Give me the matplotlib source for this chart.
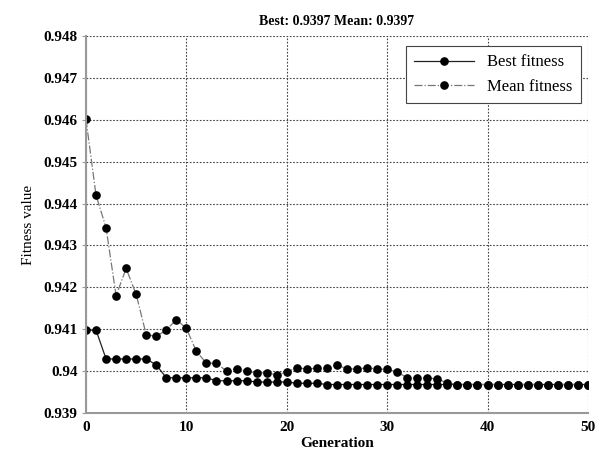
import matplotlib.pyplot as plt

generations = list(range(51))
best_fitness = [0.94098, 0.94098, 0.94029, 0.94029, 0.94029, 0.94029, 0.94029, 0.94015,
                0.93984, 0.93984, 0.93984, 0.93984, 0.93984,
                0.93977, 0.93977, 0.93977, 0.93977, 0.93974, 0.93974, 0.93974, 0.93974,
                0.93971, 0.93971, 0.93971] + [0.93968] * 27
mean_fitness = [0.94601, 0.94420, 0.94342, 0.94180, 0.94245, 0.94183, 0.94087, 0.94083,
                0.94098, 0.94123, 0.94102, 0.94047, 0.94019, 0.94019, 0.94000, 0.94006,
                0.94000, 0.93996, 0.93996, 0.93991, 0.93998, 0.94008, 0.94005, 0.94007,
                0.94007, 0.94015, 0.94005, 0.94005, 0.94008, 0.94005, 0.94004, 0.93998,
                0.93984, 0.93984, 0.93984, 0.93981, 0.93972] + [0.93968] * 14
yticks = [0.939, 0.94, 0.941, 0.942, 0.943, 0.944, 0.945, 0.946, 0.947, 0.948]
ytick_labels = ['0.939', '0.94', '0.941', '0.942', '0.943', '0.944', '0.945', '0.946', '0.947', '0.948']
xticks = [0, 10, 20, 30, 40, 50]

plt.rc('font', family='Liberation Serif')
fig = plt.figure(figsize=(6.03, 4.59), dpi=100)
ax = fig.add_axes([0.1426, 0.1002, 0.8324, 0.8214])

ax.plot(generations, best_fitness, '-', color='#222222', lw=0.9, marker='o',
        markersize=5.2, markerfacecolor='black', markeredgecolor='black', label='Best fitness')
ax.plot(generations, mean_fitness, '-.', color='#777777', lw=0.9, marker='o',
        markersize=5.2, markerfacecolor='black', markeredgecolor='black', label='Mean fitness')

ax.set_xlim(0, 50)
ax.set_ylim(0.939, 0.948)
ax.set_xticks(xticks)
ax.set_xticklabels([str(x) for x in xticks], fontweight='bold', fontsize=11)
ax.set_yticks(yticks)
ax.set_yticklabels(ytick_labels, fontweight='bold', fontsize=11)
ax.tick_params(axis='y', length=3, direction='out', color='#999999', pad=3)
ax.tick_params(axis='x', length=0, pad=6)
ax.grid(True, linestyle=(0, (1.5, 1.5)), color='#444444', lw=0.8)
ax.set_axisbelow(True)

for s in ['top', 'right']:
    ax.spines[s].set_visible(False)
for s in ['left', 'bottom']:
    ax.spines[s].set_color('#999999')
    ax.spines[s].set_linewidth(1.5)

ax.set_title('Best: 0.9397 Mean: 0.9397', fontweight='bold', fontsize=10, pad=8)
ax.set_xlabel('Generation', fontweight='bold', fontsize=11, labelpad=2)
ax.set_ylabel('Fitness value', fontsize=11, labelpad=6)

leg = ax.legend(loc='upper right', fontsize=12, fancybox=False, framealpha=1,
                edgecolor='#444444', handlelength=3.6, borderpad=0.5, borderaxespad=0,
                bbox_to_anchor=(0.986, 0.973))
leg.get_frame().set_linewidth(0.8)

fig.savefig('out.png', dpi=100)
